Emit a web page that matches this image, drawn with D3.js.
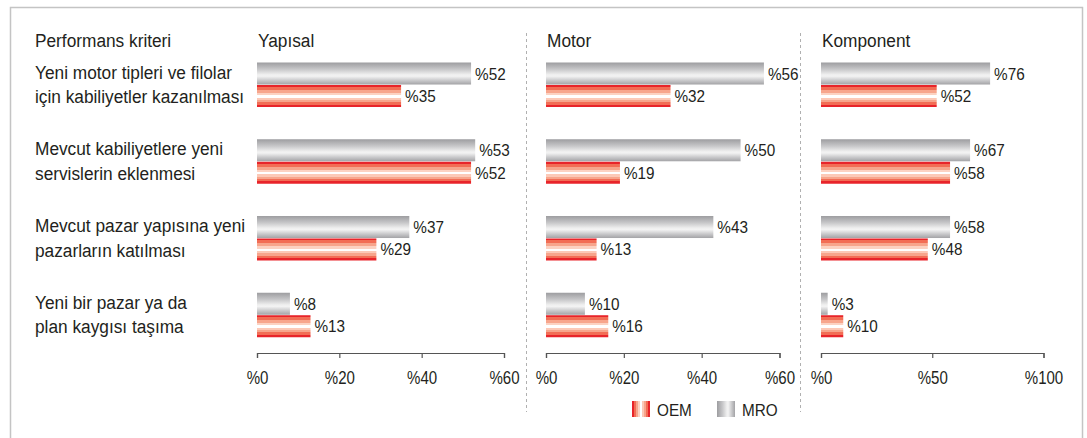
<!DOCTYPE html>
<html><head><meta charset="utf-8">
<script src="https://cdn.jsdelivr.net/npm/d3@7/dist/d3.min.js"></script>
<style>
html,body{margin:0;padding:0;background:#fff;}
svg{display:block;}
text{font-family:"Liberation Sans",Arial,sans-serif;fill:#231f20;}
</style></head>
<body>
<svg id="c" width="1087" height="438"></svg>
<script>
// ---- data ----
const criteria = [
  ["Yeni motor tipleri ve filolar","için kabiliyetler kazanılması"],
  ["Mevcut kabiliyetlere yeni","servislerin eklenmesi"],
  ["Mevcut pazar yapısına yeni","pazarların katılması"],
  ["Yeni bir pazar ya da","plan kaygısı taşıma"]
];
const panelTitles = ["Yapısal","Motor","Komponent"];
const series = ["MRO","OEM"];
const mroYapisal = [52,53,37,8];
const oemYapisal = [35,52,29,13];
const mroMotor = [56,50,43,10];
const oemMotor = [32,19,13,16];
const mroKomponent = [76,67,58,3];
const oemKomponent = [52,58,48,10];
const ticksYapisal = [0,20,40,60];
const ticksMotor = [0,20,40,60];
const ticksKomponent = [0,50,100];
const headerLabel = "Performans kriteri";

// ---- layout ----
const svg = d3.select("#c");
const defs = svg.append("defs");

function smoothGrad(id, horiz, stops){
  const g = defs.append("linearGradient").attr("id",id)
    .attr("x1",0).attr("y1",0).attr("x2",horiz?1:0).attr("y2",horiz?0:1);
  stops.forEach(([o,c])=>g.append("stop").attr("offset",o).attr("stop-color",c));
}
function stepGrad(id, horiz, bands){
  const g = defs.append("linearGradient").attr("id",id)
    .attr("x1",0).attr("y1",0).attr("x2",horiz?1:0).attr("y2",horiz?0:1);
  bands.forEach(([a,b,c])=>{
    g.append("stop").attr("offset",a).attr("stop-color",c);
    g.append("stop").attr("offset",b).attr("stop-color",c);
  });
}
const grayStops = [[0,"#9d9da0"],[0.3,"#c6c6c8"],[0.55,"#efefef"],[0.62,"#f3f3f3"],[0.82,"#c8c8ca"],[1,"#a3a3a6"]];
const redBands = [[0,0.09,"#e8242a"],[0.09,0.22,"#f26d55"],[0.22,0.36,"#f7a58c"],[0.36,0.46,"#fcd2c2"],
  [0.46,0.58,"#ffffff"],[0.58,0.68,"#fcc9b7"],[0.68,0.78,"#f7a58c"],[0.78,0.89,"#f26d55"],[0.89,1,"#e8242a"]];
smoothGrad("grayV", false, grayStops);
stepGrad("redV", false, redBands);
smoothGrad("grayH", true, grayStops);
stepGrad("redH", true, redBands);

// condensed text helper
function ctext(parent, x, y, str, size, sx, anchor){
  return parent.append("text")
    .attr("transform",`translate(${x},${y}) scale(${sx},1)`)
    .attr("font-size",size)
    .attr("text-anchor",anchor||"start")
    .text(str);
}

// frame
svg.append("rect").attr("x",10.5).attr("y",7.5).attr("width",1072).attr("height",440)
  .attr("fill","none").attr("stroke","#c4c4c4").attr("stroke-width",1.5);

const panels = [
  {title:panelTitles[0], mro:mroYapisal, oem:oemYapisal, ticks:ticksYapisal, range:[257,504]},
  {title:panelTitles[1], mro:mroMotor, oem:oemMotor, ticks:ticksMotor, range:[546,779.5]},
  {title:panelTitles[2], mro:mroKomponent, oem:oemKomponent, ticks:ticksKomponent, range:[821,1043.5]}
];

const y = d3.scaleBand().domain(d3.range(criteria.length)).range([62.5,369.5]).padding(0);
const ySub = d3.scaleBand().domain(series).range([0,44.5]).paddingInner(0.02);
const axisY = 353;
const bigSize = 18, bigSx = 0.96;

ctext(svg, 35, 46.5, headerLabel, bigSize, bigSx);

criteria.forEach((lines,i)=>{
  lines.forEach((l,j)=>{
    ctext(svg, 35, y(i)+16+j*24.5, l, bigSize, bigSx);
  });
});

panels.forEach(p=>{
  const x = d3.scaleLinear().domain([p.ticks[0], p.ticks[p.ticks.length-1]]).range(p.range);
  const g = svg.append("g");
  ctext(g, p.range[0]+1, 46.5, p.title, bigSize, bigSx);
  const rows = criteria.map((c,i)=>({i, MRO:p.mro[i], OEM:p.oem[i]}));
  series.forEach(s=>{
    g.selectAll(null).data(rows).join("rect")
      .attr("x",x(0))
      .attr("y",d=>y(d.i)+ySub(s))
      .attr("width",d=>x(d[s])-x(0))
      .attr("height",ySub.bandwidth())
      .attr("fill",s==="MRO"?"url(#grayV)":"url(#redV)");
    rows.forEach(d=>{
      ctext(g, x(d[s])+4, y(d.i)+ySub(s)+ySub.bandwidth()/2+6, "%"+d[s], 16.8, 0.91);
    });
  });
  const ax = g.append("g").attr("transform",`translate(0,${axisY})`)
    .call(d3.axisBottom(x).tickValues(p.ticks).tickSize(5).tickSizeOuter(5).tickFormat(d=>"%"+d));
  ax.select(".domain").attr("stroke","#555").attr("stroke-width",1.2);
  ax.selectAll(".tick line").attr("stroke","#555").attr("stroke-width",1.2);
  ax.selectAll(".tick text").remove();
  ax.selectAll(".tick").each(function(d){
    ctext(d3.select(this), 0, 31, "%"+d, 17.5, 0.86, "middle");
  });
});

// separators
[526.5, 800.5].forEach(sx=>{
  svg.append("line").attr("x1",sx).attr("x2",sx).attr("y1",33).attr("y2",412)
    .attr("stroke","#b0b0b0").attr("stroke-width",1).attr("stroke-dasharray","3,3");
});

// legend
const legend = [{k:"OEM",fill:"url(#redH)",x:632},{k:"MRO",fill:"url(#grayH)",x:717}];
legend.forEach(l=>{
  svg.append("rect").attr("x",l.x).attr("y",401).attr("width",18).attr("height",16).attr("fill",l.fill);
  ctext(svg, l.x+25, 415.5, l.k, 17, 0.9);
});
</script>
</body></html>
